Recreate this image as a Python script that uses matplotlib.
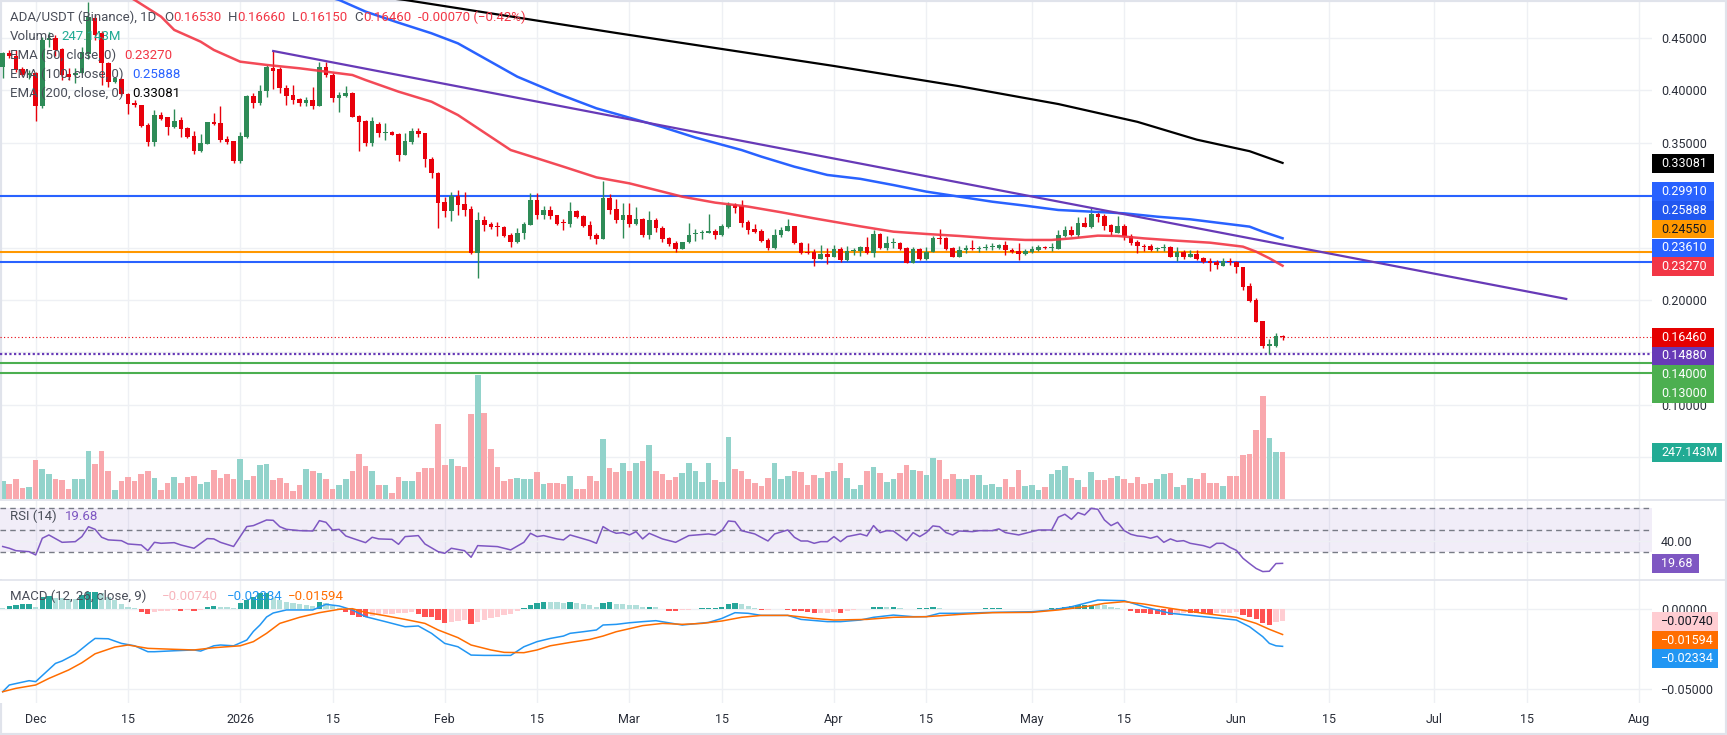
import numpy as np
import pandas as pd
import matplotlib
matplotlib.use("Agg")
import matplotlib.pyplot as plt
import matplotlib.dates as mdates
import matplotlib.transforms as mtrans
from matplotlib.patches import Rectangle
from matplotlib.lines import Line2D
from matplotlib.ticker import FuncFormatter

plt.rcParams['font.family'] = ['Roboto', 'DejaVu Sans']

# ---------------- data (ADA/USDT, 1D) ----------------
first_day = '2025-11-26'

opens = [.4227, .4360, .4328, .4201, .4147, .4165, .3851, .4481, .4500, .4392,
         .4157, .4147, .4170, .4350, .4688, .4545, .4258, .4084, .4109, .3966,
         .3883, .3857, .3670, .3511, .3765, .3743, .3654, .3718, .3638, .3565,
         .3425, .3489, .3698, .3689, .3533, .3517, .3326, .3559, .3947, .3883,
         .3998, .4217, .4201, .4020, .3956, .3921, .3883, .3909, .3851, .4227,
         .4147, .3931, .3950, .3979, .3756, .3708, .3495, .3680, .3590, .3606,
         .3584, .3384, .3511, .3613, .3590, .3342, .3209, .2938, .2849, .2996,
         .2916, .2865, .2452, .2763, .2725, .2706, .2693, .2620, .2557, .2636,
         .2716, .2954, .2811, .2859, .2808, .2738, .2725, .2849, .2802, .2716,
         .2620, .2582, .2970, .2865, .2763, .2811, .2725, .2770, .2620, .2763,
         .2684, .2588, .2540, .2486, .2553, .2629, .2636, .2642, .2658, .2620,
         .2700, .2907, .2897, .2747, .2677, .2661, .2572, .2499, .2620, .2661,
         .2706, .2547, .2458, .2461, .2391, .2439, .2414, .2486, .2382, .2471,
         .2471, .2503, .2452, .2627, .2499, .2541, .2541, .2499, .2356, .2487,
         .2391, .2455, .2589, .2589, .2493, .2414, .2477, .2499, .2483, .2499,
         .2505, .2499, .2525, .2477, .2471, .2439, .2461, .2477, .2509, .2499,
         .2486, .2614, .2668, .2620, .2738, .2700, .2821, .2802, .2716, .2642,
         .2706, .2611, .2557, .2518, .2515, .2483, .2496, .2503, .2414, .2461,
         .2414, .2439, .2398, .2372, .2360, .2328, .2366, .2360, .2318, .2134,
         .2000, .1800, .1561, .1564, .1653]

highs = [.4370, .4385, .4385, .4227, .4190, .4180, .4513, .4560, .4530, .4400,
         .4211, .4211, .4417, .4847, .4720, .4570, .4274, .4131, .4115, .3972,
         .3908, .3862, .3685, .3813, .3797, .3750, .3826, .3745, .3654, .3616,
         .3584, .3702, .3781, .3851, .3565, .3520, .3606, .3956, .3972, .4052,
         .4243, .4376, .4227, .4052, .4052, .3927, .3940, .4030, .4274, .4274,
         .4163, .3988, .4042, .3988, .3766, .3718, .3743, .3700, .3690, .3610,
         .3590, .3590, .3645, .3645, .3597, .3367, .3225, .2986, .3034, .3050,
         .3034, .2897, .2840, .2802, .2747, .2747, .2706, .2636, .2684, .2747,
         .3018, .3024, .2897, .2897, .2811, .2773, .2938, .2859, .2808, .2757,
         .2636, .3136, .3011, .2961, .2922, .2922, .2884, .2779, .2849, .2779,
         .2706, .2604, .2566, .2553, .2738, .2674, .2668, .2821, .2674, .2725,
         .2938, .2929, .2954, .2763, .2725, .2674, .2588, .2674, .2693, .2773,
         .2706, .2557, .2541, .2483, .2525, .2499, .2525, .2509, .2515, .2493,
         .2515, .2598, .2668, .2642, .2610, .2588, .2556, .2502, .2509, .2499,
         .2509, .2611, .2678, .2604, .2503, .2515, .2525, .2573, .2515, .2534,
         .2540, .2534, .2566, .2493, .2541, .2483, .2515, .2525, .2515, .2547,
         .2668, .2706, .2706, .2795, .2795, .2884, .2849, .2821, .2725, .2802,
         .2725, .2630, .2573, .2531, .2531, .2509, .2531, .2515, .2509, .2477,
         .2477, .2477, .2414, .2397, .2382, .2397, .2397, .2372, .2318, .2159,
         .2016, .1800, .1625, .1682, .1666]

lows = [.4115, .4306, .4179, .4138, .4110, .3711, .3830, .4410, .4330, .4100,
        .4100, .4070, .4160, .4300, .4480, .4052, .4036, .4068, .3956, .3775,
        .3838, .3654, .3473, .3473, .3720, .3575, .3640, .3559, .3543, .3393,
        .3415, .3486, .3670, .3511, .3489, .3304, .3310, .3550, .3829, .3860,
        .3940, .4010, .3973, .3861, .3870, .3851, .3851, .3820, .3851, .4131,
        .3893, .3797, .3940, .3743, .3425, .3470, .3470, .3560, .3530, .3575,
        .3330, .3380, .3490, .3560, .3273, .3161, .2690, .2795, .2757, .2811,
        .2805, .2439, .2213, .2662, .2680, .2611, .2598, .2509, .2541, .2579,
        .2716, .2773, .2773, .2773, .2716, .2668, .2700, .2786, .2693, .2579,
        .2534, .2582, .2821, .2738, .2588, .2693, .2716, .2598, .2579, .2652,
        .2557, .2518, .2461, .2486, .2547, .2566, .2579, .2642, .2579, .2611,
        .2684, .2833, .2700, .2630, .2636, .2557, .2477, .2483, .2604, .2661,
        .2534, .2439, .2439, .2328, .2391, .2344, .2407, .2359, .2375, .2430,
        .2420, .2440, .2407, .2490, .2477, .2493, .2477, .2356, .2356, .2382,
        .2382, .2455, .2531, .2477, .2407, .2414, .2445, .2477, .2461, .2477,
        .2477, .2487, .2430, .2445, .2382, .2430, .2452, .2471, .2483, .2471,
        .2486, .2604, .2611, .2604, .2693, .2684, .2747, .2668, .2620, .2636,
        .2573, .2525, .2452, .2471, .2471, .2471, .2468, .2407, .2375, .2388,
        .2407, .2382, .2356, .2280, .2293, .2328, .2334, .2261, .2096, .1984,
        .1793, .1539, .1488, .1555, .1615]

closes = [.4354, .4328, .4195, .4147, .4165, .3851, .4481, .4500, .4385, .4147,
          .4131, .4170, .4370, .4704, .4529, .4258, .4083, .4115, .3966, .3870,
          .3857, .3660, .3511, .3765, .3724, .3654, .3708, .3629, .3559, .3425,
          .3495, .3698, .3680, .3527, .3511, .3326, .3565, .3947, .3883, .3998,
          .4227, .4189, .4020, .3950, .3909, .3883, .3909, .3851, .4227, .4147,
          .3931, .3956, .3972, .3750, .3702, .3495, .3711, .3590, .3606, .3575,
          .3384, .3517, .3613, .3581, .3343, .3209, .2929, .2849, .2996, .2907,
          .2859, .2452, .2763, .2716, .2700, .2700, .2611, .2557, .2636, .2725,
          .2954, .2811, .2859, .2802, .2725, .2732, .2849, .2795, .2706, .2611,
          .2582, .2970, .2859, .2763, .2811, .2725, .2770, .2620, .2763, .2684,
          .2579, .2534, .2486, .2553, .2617, .2636, .2642, .2658, .2620, .2706,
          .2907, .2875, .2738, .2668, .2652, .2566, .2499, .2620, .2668, .2706,
          .2541, .2452, .2452, .2391, .2439, .2414, .2486, .2382, .2471, .2477,
          .2503, .2452, .2627, .2499, .2541, .2547, .2487, .2356, .2487, .2391,
          .2455, .2595, .2579, .2483, .2414, .2477, .2499, .2483, .2499, .2505,
          .2509, .2525, .2477, .2461, .2439, .2468, .2487, .2509, .2499, .2505,
          .2620, .2668, .2620, .2738, .2700, .2821, .2795, .2709, .2646, .2706,
          .2611, .2547, .2515, .2509, .2477, .2496, .2509, .2414, .2461, .2414,
          .2439, .2391, .2366, .2350, .2334, .2372, .2360, .2312, .2127, .1994,
          .1793, .1561, .1577, .1653, .1646]

# volume in millions
volume_m = [94, 77, 105, 56, 63, 204, 157, 131, 105, 99,
            52, 105, 105, 251, 183, 251, 146, 47, 94, 115,
            94, 131, 146, 110, 47, 84, 115, 84, 115, 120,
            78, 89, 152, 110, 131, 105, 209, 99, 120, 178,
            183, 99, 110, 84, 42, 73, 157, 146, 136, 105,
            52, 73, 105, 148, 237, 174, 148, 73, 73, 31,
            115, 96, 96, 141, 162, 162, 392, 178, 209, 171,
            167, 444, 650, 449, 261, 167, 94, 105, 110, 105,
            105, 141, 78, 84, 84, 78, 120, 52, 52, 120,
            94, 314, 162, 141, 188, 146, 188, 199, 282, 146,
            131, 99, 115, 136, 188, 146, 89, 188, 99, 89,
            324, 157, 146, 105, 84, 68, 110, 188, 105, 120,
            146, 141, 73, 125, 110, 141, 146, 188, 110, 52,
            73, 146, 167, 136, 89, 105, 136, 178, 152, 146,
            125, 214, 204, 105, 131, 105, 105, 125, 125, 73,
            78, 63, 105, 63, 152, 68, 73, 47, 63, 131,
            152, 172, 110, 99, 63, 141, 99, 99, 110, 120,
            105, 84, 115, 78, 84, 105, 131, 136, 63, 73,
            110, 105, 136, 84, 84, 68, 120, 120, 230, 235,
            361, 538, 320, 247, 247.143]

# MACD histogram, units of 1e-3
macd_hist = [0.5, 1.8, 2.8, 3.1, 3.2, 1.5, 7.7, 8.1, 6.7, 6.6,
             6.5, 6.0, 8.8, 10.6, 10.8, 9.8, 7.7, 5.6, 3.1, 1.5,
             0.8, -2.1, -3.3, -2.1, -1.3, -1.0, -0.8, -1.1, -0.8, -1.2,
             -0.6, 1.5, 1.9, 1.5, 1.4, 0.6, 3.5, 5.6, 7.7, 9.8,
             10.2, 6.7, 5.6, 4.6, 4.0, 3.1, 2.5, 2.1, 4.2, 3.5,
             1.9, 0.8, -2.1, -3.8, -4.8, -5.2, -4.4, -4.0, -3.3, -3.1,
             -2.7, -2.3, -2.1, -3.3, -4.8, -5.2, -6.9, -8.5, -7.9, -7.3,
             -6.9, -9.4, -7.9, -6.9, -5.4, -4.8, -4.0, -3.1, -1.5, 0.6,
             2.7, 3.5, 4.4, 4.2, 4.1, 4.0, 4.6, 4.0, 3.1, 2.3,
             1.5, 4.0, 4.1, 3.1, 2.9, 2.5, 2.3, 1.2, 1.3, 1.2,
             0.2, -1.0, -1.1, -0.6, -0.5, 0.2, 0.4, 0.6, 0.8, 1.5,
             3.1, 3.8, 2.9, 1.9, 0.8, -0.7, -0.6, 0.3, 0.1, -0.6,
             -1.0, -1.1, -2.1, -2.7, -2.6, -2.5, -2.1, -2.2, -1.0, -0.6,
             0.1, 0.3, 1.0, 1.2, 1.1, 1.3, 0.6, 0.3, 0.1, 0.4,
             0.8, 1.2, 0.5, 0.3, 0.25, 0.2, 0.3, 0.25, 0.3, 0.35,
             0.4, 0.6, 0.3, 0.2, 0.1, 0.05, 0.1, 0.2, 0.3, 0.35,
             0.6, 1.5, 1.9, 2.3, 2.5, 2.7, 2.3, 2.2, 1.0, 0.6,
             0.2, -1.2, -2.3, -2.7, -3.3, -3.4, -3.8, -3.9, -3.0, -2.5,
             -2.6, -2.7, -3.1, -3.3, -2.7, -2.6, -2.3, -2.1, -3.8, -4.8,
             -6.5, -9.0, -10.0, -8.2, -7.4]

# (bar index, value) samples of the indicator lines
rsi_points = [(0, 35.0), (1, 33.4), (2, 31.2), (4, 30.3), (5, 27.3), (6, 42.5), (7, 45.5), (9, 38.8),
              (11, 39.4), (12, 44.0), (13, 53.0), (14, 50.6), (15, 43.4), (16, 41.0), (18, 40.3),
              (19, 37.3), (21, 36.4), (22, 31.2), (23, 38.8), (24, 37.9), (26, 38.5), (27, 36.4),
              (29, 33.4), (31, 42.2), (32, 41.9), (33, 38.8), (35, 35.0), (37, 53.1), (38, 54.0),
              (40, 59.1), (41, 58.8), (42, 53.0), (43, 50.6), (45, 49.4), (47, 49.1), (48, 58.5),
              (49, 57.0), (50, 50.0), (51, 50.6), (52, 44.6), (53, 42.5), (55, 38.5), (56, 43.4),
              (57, 41.9), (59, 41.5), (60, 37.0), (61, 44.0), (63, 44.9), (64, 37.3), (66, 30.3),
              (67, 28.8), (68, 33.4), (70, 31.2), (71, 25.2), (72, 35.8), (75, 34.9), (77, 31.9),
              (79, 38.8), (80, 47.0), (81, 44.0), (82, 44.9), (84, 41.9), (85, 41.0), (86, 45.5),
              (89, 40.3), (90, 37.9), (91, 53.1), (92, 49.4), (93, 47.0), (94, 47.6), (95, 45.5),
              (96, 48.5), (97, 41.9), (98, 47.0), (100, 41.9), (102, 38.8), (104, 44.9), (107, 46.4),
              (108, 45.5), (109, 49.4), (110, 58.2), (111, 57.6), (112, 49.4), (114, 46.4), (116, 40.0),
              (117, 46.4), (119, 50.0), (120, 43.4), (121, 40.0), (122, 40.0), (123, 37.9), (124, 39.4),
              (125, 39.4), (126, 44.0), (127, 39.4), (128, 44.0), (130, 46.4), (131, 44.6), (132, 54.0),
              (133, 47.6), (134, 49.4), (135, 49.1), (137, 40.3), (138, 47.6), (139, 44.0), (140, 47.6),
              (141, 53.7), (142, 53.0), (143, 47.6), (144, 45.5), (145, 49.1), (147, 48.5), (148, 49.4),
              (150, 49.4), (151, 51.0), (152, 47.6), (154, 45.5), (156, 48.5), (157, 50.0), (159, 50.0),
              (160, 61.6), (161, 64.3), (162, 59.7), (163, 65.8), (164, 63.7), (165, 69.7), (166, 68.8),
              (167, 59.1), (168, 54.0), (169, 57.0), (170, 49.4), (171, 46.1), (172, 44.6), (173, 44.0),
              (174, 42.5), (175, 44.3), (176, 38.8), (177, 41.9), (178, 39.7), (179, 40.3), (180, 37.9),
              (182, 35.8), (183, 33.9), (184, 37.9), (185, 37.9), (186, 34.3), (187, 31.5), (188, 24.3),
              (189, 19.5), (190, 15.0), (191, 12.2), (192, 12.5), (193, 19.5), (194, 19.68)]

# MACD / signal in units of 1e-3
macd_points = [(0, -51.7), (1, -47.5), (4, -44.8), (5, -45.4), (8, -34.0), (9, -32.5), (11, -28.2),
               (13, -21.5), (14, -18.4), (16, -18.6), (18, -21.5), (20, -23.0), (22, -26.7), (23, -26.7),
               (26, -26.1), (29, -25.6), (30, -26.3), (32, -23.0), (33, -22.5), (35, -23.0), (37, -19.4),
               (38, -14.0), (39, -10.0), (40, -5.0), (41, -2.5), (43, -0.6), (47, -0.6), (49, 2.9),
               (51, 1.9), (53, -0.6), (55, -4.8), (58, -7.9), (61, -11.1), (63, -10.6), (65, -15.2),
               (67, -21.5), (69, -23.6), (71, -28.8), (73, -29.0), (77, -29.0), (79, -23.6), (81, -20.4),
               (83, -18.4), (85, -16.9), (86, -15.2), (88, -14.2), (90, -13.1), (91, -10.0), (93, -9.6),
               (95, -8.6), (97, -7.9), (99, -7.3), (103, -10.0), (107, -8.4), (109, -5.9), (111, -2.3),
               (113, -2.7), (115, -4.0), (119, -4.0), (121, -6.5), (125, -7.9), (127, -7.9), (130, -6.9),
               (132, -5.2), (135, -3.8), (138, -4.8), (140, -4.8), (142, -2.7), (145, -2.7), (150, -2.1),
               (156, -1.7), (159, -0.6), (162, 1.4), (164, 3.5), (166, 5.6), (170, 5.2), (173, 1.4),
               (177, -2.7), (183, -5.2), (187, -6.9), (189, -11.1), (191, -17.3), (192, -21.5),
               (193, -23.0), (194, -23.34)]

signal_points = [(0, -51.7), (2, -49.6), (5, -47.5), (7, -43.4), (10, -38.1), (12, -33.6), (14, -28.0),
                 (17, -23.8), (19, -22.5), (22, -24.6), (26, -25.2), (29, -25.6), (32, -24.2), (34, -23.6),
                 (36, -23.0), (38, -20.4), (40, -15.2), (42, -9.0), (45, -5.2), (48, -2.3), (51, -0.2),
                 (53, 0.2), (55, -2.1), (58, -4.2), (61, -6.5), (64, -9.0), (66, -13.1), (69, -17.9),
                 (71, -22.5), (74, -25.6), (76, -27.1), (79, -27.3), (81, -25.6), (83, -23.0), (86, -20.9),
                 (89, -19.0), (91, -16.9), (93, -14.2), (97, -10.4), (100, -9.0), (103, -9.6), (106, -9.0),
                 (109, -7.5), (112, -5.2), (115, -4.0), (119, -4.0), (123, -5.9), (126, -6.9), (131, -6.5),
                 (135, -5.2), (140, -4.8), (145, -3.4), (150, -2.3), (156, -2.1), (160, -0.6), (164, 1.4),
                 (167, 3.5), (170, 4.6), (173, 3.1), (177, 0.4), (182, -2.7), (187, -5.2), (190, -9.0),
                 (192, -12.7), (194, -15.94)]

ema50_points = [(0, 0.555), (10, 0.52), (15, 0.503), (20, 0.4863), (24, 0.4704), (26, 0.4577),
                (30, 0.4465), (32, 0.4386), (36, 0.4274), (40, 0.4243), (45, 0.4211), (49, 0.4179),
                (53, 0.4147), (55, 0.4099), (60, 0.3988), (65, 0.3892), (69, 0.3765), (77, 0.3431),
                (81, 0.3352), (85, 0.3272), (90, 0.3170), (95, 0.3113), (100, 0.3034), (103, 0.2986),
                (108, 0.2929), (113, 0.2891), (118, 0.2837), (123, 0.2779), (130, 0.2703), (135, 0.2652),
                (140, 0.2630), (145, 0.2611), (150, 0.2588), (155, 0.2573), (159, 0.2573), (162, 0.2588),
                (166, 0.2614), (169, 0.2611), (173, 0.2588), (178, 0.2566), (183, 0.2547), (188, 0.2509),
                (190, 0.2461), (192, 0.2398), (194, 0.2327)]

ema100_points = [(0, 0.58), (40, 0.505), (51, 0.4863), (55, 0.4752), (60, 0.4646), (65, 0.4545),
                 (69, 0.4449), (78, 0.4131), (84, 0.3972), (90, 0.3829), (100, 0.365), (105, 0.355),
                 (112, 0.3431), (115, 0.3368), (120, 0.3272), (125, 0.3193), (130, 0.3156), (135, 0.3097),
                 (140, 0.3034), (145, 0.2986), (150, 0.2938), (155, 0.2900), (160, 0.2859), (165, 0.2843),
                 (170, 0.2827), (175, 0.2795), (180, 0.2770), (185, 0.2731), (189, 0.2700), (191, 0.2652),
                 (194, 0.2589)]

ema200_points = [(0, 0.53), (61, 0.4863), (93, 0.4548), (126, 0.4233), (145, 0.4040), (160, 0.3870),
                 (172, 0.3700), (181, 0.3530), (189, 0.3420), (194, 0.3308)]

trend_dates = ['2026-01-06', '2026-07-21']
trend_prices = [0.4376, 0.2010]

solid_levels = [0.2991, 0.2455, 0.2361, 0.1400, 0.1300]
solid_colors = ['#2962FF', '#FF9800', '#2962FF', '#4CAF50', '#4CAF50']
last_price = 0.1646
dotted_support = 0.1488

date_ticks = ['2025-12-01', '2025-12-15', '2026-01-01', '2026-01-15', '2026-02-01', '2026-02-15',
              '2026-03-01', '2026-03-15', '2026-04-01', '2026-04-15', '2026-05-01', '2026-05-15',
              '2026-06-01', '2026-06-15', '2026-07-01', '2026-07-15', '2026-08-01']
date_labels = ['Dec', '15', '2026', '15', 'Feb', '15', 'Mar', '15', 'Apr', '15', 'May', '15',
               'Jun', '15', 'Jul', '15', 'Aug']

# ---------------- colours ----------------
UP, DOWN = '#2E8B57', '#E8000B'
VOL_UP, VOL_DOWN = '#92D3CB', '#F9A8AD'
GRID = '#EEF0F4'
SEP = '#E0E3EB'
TXT = '#2A2E39'
LEG = '#4A4E59'

# ---------------- layout (pixels of a 1727x735 canvas) ----------------
W, H = 1727, 735
PW = 1652

fig = plt.figure(figsize=(W / 100, H / 100), dpi=100, facecolor='white')


def rect(top, bottom):
    return [0, 1 - bottom / H, PW / W, (bottom - top) / H]


ax_vol = fig.add_axes(rect(0, 499), zorder=0)
ax = fig.add_axes(rect(0, 499), zorder=1)
ax_rsi = fig.add_axes(rect(500, 579), zorder=1)
ax_macd = fig.add_axes(rect(580, 703), zorder=1)
ax.patch.set_alpha(0)

dates = pd.date_range(first_day, periods=len(opens), freq='D')
xs = mdates.date2num(dates)
x_left, x_right = xs[0] - 0.41, xs[0] + 250.0
tick_x = mdates.date2num(pd.to_datetime(date_ticks))

for a in (ax_vol, ax, ax_rsi, ax_macd):
    a.set_xlim(x_left, x_right)
    for s in a.spines.values():
        s.set_visible(False)
    a.tick_params(axis='both', length=0)
    a.set_xticks([])

ax.set_ylim(0.01011, 0.48626)
ax_vol.set_ylim(0, 247.143 * 499 / 47.3)
ax_vol.set_yticks([])
ax_rsi.set_ylim(5.45, 77.27)
ax_macd.set_ylim(-0.05875, 0.018125)

# grid
for a in (ax_vol, ax_rsi, ax_macd):
    for t in tick_x:
        a.axvline(t, color=GRID, lw=1, zorder=0)
price_grid = np.arange(0.05, 0.4501, 0.05)
blend = mtrans.blended_transform_factory(ax_vol.transAxes, ax.transData)
for p in price_grid:
    ax_vol.add_line(Line2D([0, 1], [p, p], transform=blend, color=GRID, lw=1, zorder=0))

# volume
o, h, l, c = (np.array(v) for v in (opens, highs, lows, closes))
up = c >= o
ax_vol.bar(xs, volume_m, width=0.85, color=np.where(up, VOL_UP, VOL_DOWN), lw=0, zorder=1)

# candles
cols = np.where(up, UP, DOWN)
ax.vlines(xs, l, h, colors=cols, lw=1.0, zorder=3)
ax.bar(xs, np.maximum(np.abs(c - o), 0.0009), bottom=np.minimum(o, c), width=0.7,
       color=cols, lw=0, zorder=4)

# levels
for lv, col in zip(solid_levels, solid_colors):
    ax.axhline(lv, color=col, lw=1.5, zorder=2)
ax.axhline(last_price, color=DOWN, lw=0.8, ls=(0, (1, 2.2)), zorder=2)
ax.axhline(dotted_support, color='#673AB7', lw=1.6, ls=(0, (1, 1.1)), zorder=2)


def line_from(points, axis, scale=1.0, **kw):
    idx, val = zip(*points)
    axis.plot(xs[list(idx)], np.array(val) * scale, **kw)


line_from(ema200_points, ax, color='black', lw=1.6, zorder=5)
line_from(ema100_points, ax, color='#2962FF', lw=1.8, zorder=5)
line_from(ema50_points, ax, color='#F23645', lw=1.8, alpha=0.9, zorder=5)
ax.plot(mdates.date2num(pd.to_datetime(trend_dates)), trend_prices, color='#673AB7', lw=1.6, zorder=5)

# RSI
ax_rsi.axhspan(30, 70, color='#7E57C2', alpha=0.1, lw=0, zorder=0)
ax_rsi.axhline(40, color=GRID, lw=1, zorder=0)
for lv in (70, 50, 30):
    ax_rsi.axhline(lv, color='#787B86', lw=1, ls=(0, (4, 3)), zorder=1)
line_from(rsi_points, ax_rsi, color='#7E57C2', lw=1.1, zorder=3)

# MACD
ax_macd.axhline(0, color=GRID, lw=1, zorder=0)
ax_macd.axhline(-0.05, color=GRID, lw=1, zorder=0)
hist = np.array(macd_hist)
prev = np.r_[hist[0], hist[:-1]]
hcols = np.where(hist >= 0, np.where(hist > prev, '#26A69A', '#B2DFDB'),
                 np.where(hist < prev, '#FF5252', '#FFCDD2'))
ax_macd.bar(xs, hist * 1e-3, width=0.8, color=hcols, lw=0, zorder=1)
line_from(macd_points, ax_macd, scale=1e-3, color='#2196F3', lw=1.1, zorder=3)
line_from(signal_points, ax_macd, scale=1e-3, color='#FF6D00', lw=1.1, zorder=3)


# right-hand scales (only the tick labels not hidden under the price tags)
def fmt5(v, _):
    if abs(v) < 1e-12:
        v = 0.0
    return f'{v:.5f}'.replace('-', '\u2212')


for a, ticks, f in ((ax, [0.10, 0.20, 0.35, 0.40, 0.45], fmt5),
                    (ax_rsi, [40], lambda v, _: f'{v:.2f}'),
                    (ax_macd, [0.0, -0.05], fmt5)):
    a.yaxis.tick_right()
    a.set_yticks(ticks)
    a.yaxis.set_major_formatter(FuncFormatter(f))
    a.tick_params(axis='y', length=0, pad=6.5, labelsize=9, labelcolor=TXT)

ax_macd.set_xticks(tick_x)
ax_macd.set_xticklabels(date_labels)
ax_macd.tick_params(axis='x', length=0, pad=7, labelsize=9, labelcolor=TXT)

# pane separators and frame
for yy in (499.5, 579.5):
    fig.add_artist(Line2D([0, 1], [1 - yy / H] * 2, transform=fig.transFigure, color=SEP, lw=1.2))
fig.add_artist(Rectangle((0, 0), 1, 1, transform=fig.transFigure, fill=False, ec=SEP, lw=3))


# price tags on the scale
def tag(y, text, bg, fg, w=62):
    fig.add_artist(Rectangle((PW / W, 1 - (y + 9.3) / H), w / W, 18.6 / H, transform=fig.transFigure,
                             facecolor=bg, edgecolor='none', zorder=5))
    fig.text((PW + 9) / W, 1 - y / H, text, color=fg, fontsize=9, va='center', ha='left', zorder=6)


tag(163.3, '0.33081', '#000000', 'white')
tag(191.7, '0.29910', '#2962FF', 'white')
tag(210.4, '0.25888', '#2157F0', 'white')
tag(229.1, '0.24550', '#FF9800', '#131722')
tag(247.8, '0.23610', '#2962FF', 'white')
tag(266.5, '0.23270', '#F23645', 'white')
tag(337.3, '0.16460', '#E50000', 'white')
tag(356.0, '0.14880', '#673AB7', 'white')
tag(374.7, '0.14000', '#4CAF50', 'white')
tag(393.4, '0.13000', '#4CAF50', 'white')
tag(452.2, '247.143M', '#22AB94', 'white', w=70)
tag(563.5, '19.68', '#7E57C2', 'white', w=47)
tag(621.7, '\u22120.00740', '#FFCDD2', '#131722', w=66)
tag(640.2, '\u22120.01594', '#FF6D00', 'white', w=66)
tag(658.7, '\u22120.02334', '#2196F3', 'white', w=66)

# legends (top-left of each pane)
renderer = fig.canvas.get_renderer()


def legend_row(y, parts, x=9.6, size=9.5):
    for text, color, gap in parts:
        t = fig.text(x / W, 1 - y / H, text, color=color, fontsize=size, va='center', ha='left', zorder=6)
        x += t.get_window_extent(renderer).width + gap


RED_TXT = '#F23645'
legend_row(17.3, [('ADA/USDT (Binance), 1D', LEG, 8), ('O', LEG, 0.5), ('0.16530', RED_TXT, 6),
                  ('H', LEG, 0.5), ('0.16660', RED_TXT, 6), ('L', LEG, 0.5), ('0.16150', RED_TXT, 6),
                  ('C', LEG, 0.5), ('0.16460', RED_TXT, 7), ('-0.00070 (\u22120.42%)', RED_TXT, 0)])
legend_row(36.7, [('Volume', LEG, 7), ('247.143M', '#22AB94', 0)])
legend_row(55.3, [('EMA (50, close, 0)', LEG, 9), ('0.23270', '#F23645', 0)])
legend_row(74.0, [('EMA (100, close, 0)', LEG, 9), ('0.25888', '#2962FF', 0)])
legend_row(93.3, [('EMA (200, close, 0)', LEG, 9), ('0.33081', '#000000', 0)])
legend_row(516.7, [('RSI (14)', LEG, 9), ('19.68', '#7E57C2', 0)])
legend_row(596.7, [('MACD (12, 26, close, 9)', LEG, 16), ('\u22120.00740', '#F7B5BC', 9),
                   ('\u22120.02334', '#2196F3', 5), ('\u22120.01594', '#FF6D00', 0)])

fig.savefig('out.png', dpi=100, facecolor='white')
